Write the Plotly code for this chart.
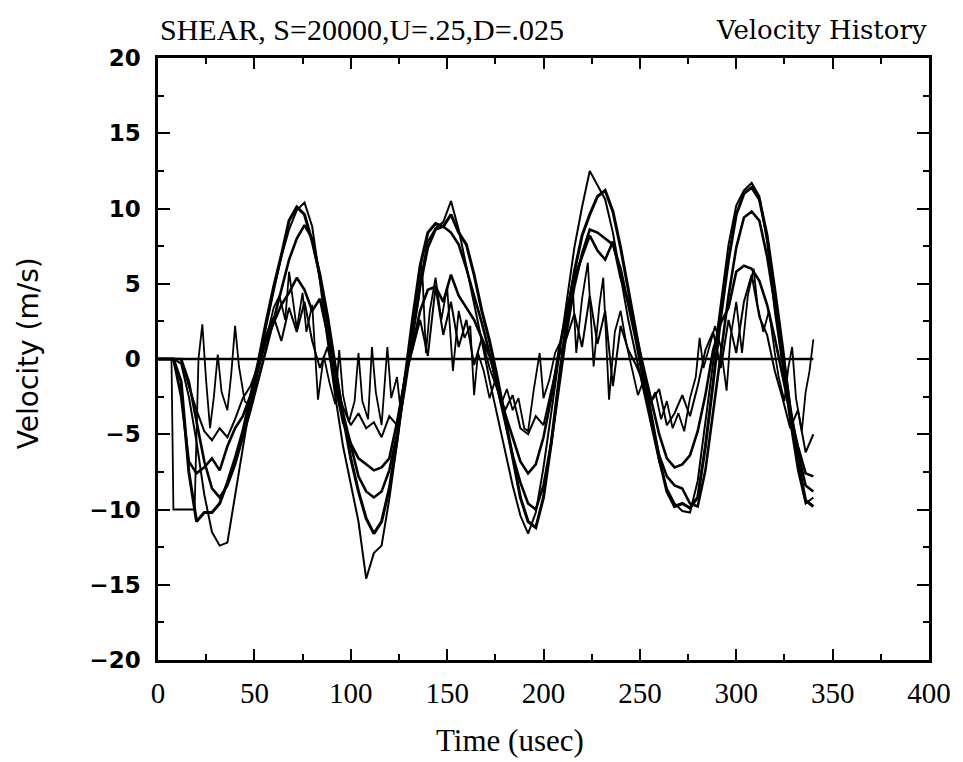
import plotly.graph_objects as go

# time grid (usec) shared by the five smooth gauge traces
T = [0, 4, 8, 12, 16, 20, 24, 28, 32, 36, 40, 44, 48, 52, 56, 60, 64, 68, 72, 76,
     80, 84, 88, 92, 96, 100, 104, 108, 112, 116, 120, 124, 128, 132, 136, 140, 144, 148, 152, 156,
     160, 164, 168, 172, 176, 180, 184, 188, 192, 196, 200, 204, 208, 212, 216, 220, 224, 228, 232, 236,
     240, 244, 248, 252, 256, 260, 264, 268, 272, 276, 280, 284, 288, 292, 296, 300, 304, 308, 312, 316,
     320, 324, 328, 332, 336, 340]

V_A = [0, 0, 0, -0.3, -2.5, -5.5, -9.0, -11.5, -12.4, -12.2, -9.0, -5.8, -2.8, -0.3, 2.2, 4.5, 6.8, 8.6, 9.9, 10.4,
       8.8, 5.2, 1.2, -2.5, -5.8, -8.2, -10.8, -14.6, -12.9, -12.4, -9.3, -5.6, -1.8, 1.6, 5.2, 7.8, 8.7, 9.1, 10.5, 8.6,
       6.2, 3.8, 1.2, -1.4, -3.8, -6.2, -8.4, -10.4, -11.6, -10.2, -7.2, -3.6, 0.2, 3.8, 7.4, 10.1, 12.5, 11.6, 10.6, 8.4,
       5.6, 2.6, 0.2, -2.2, -4.6, -6.8, -8.6, -9.6, -10.1, -10.2, -8.1, -4.2, -0.2, 3.8, 7.6, 10.2, 11.2, 11.7, 10.8, 7.8,
       3.2, -0.4, -4.2, -7.4, -9.6, -9.2]

V_B = [0, 0, 0, -1.5, -7.5, -10.8, -10.2, -10.2, -9.6, -8.2, -6.6, -4.8, -2.6, -0.2, 2.4, 4.8, 6.9, 9.2, 10.1, 9.6,
       7.8, 5.6, 2.8, -0.6, -3.8, -6.6, -8.8, -10.6, -11.6, -10.8, -8.6, -5.4, -1.2, 2.6, 6.2, 8.4, 9.0, 8.8, 9.6, 8.4,
       7.6, 5.6, 3.2, 1.2, -1.2, -3.8, -6.4, -9.2, -10.8, -11.2, -9.2, -5.6, -1.4, 2.6, 5.8, 8.2, 9.6, 10.8, 11.2, 9.8,
       7.4, 4.6, 1.8, -1.0, -3.8, -6.6, -8.8, -9.8, -9.6, -9.9, -9.2, -5.8, -1.6, 2.8, 6.6, 9.6, 11.0, 11.4, 10.6, 8.2,
       4.6, 0.8, -3.4, -6.8, -9.4, -9.8]

V_C = [0, 0, 0, 0, -1.5, -4.2, -6.8, -8.6, -9.2, -8.4, -7.0, -5.2, -3.4, -1.4, 0.6, 2.8, 4.8, 6.6, 8.0, 8.9,
       8.0, 5.4, 2.4, -0.8, -3.6, -5.8, -7.8, -8.8, -9.2, -8.8, -7.4, -5.0, -2.0, 1.4, 4.8, 7.4, 8.6, 8.8, 8.4, 7.6,
       6.0, 4.2, 2.4, 0.4, -1.8, -4.2, -6.4, -8.2, -9.6, -10.0, -8.4, -5.6, -2.0, 1.8, 4.8, 7.0, 8.6, 8.4, 8.0, 7.6,
       6.0, 3.6, 1.2, -1.6, -4.2, -6.4, -7.8, -8.4, -8.6, -9.6, -9.8, -7.4, -3.6, 0.4, 4.2, 7.4, 9.4, 9.8, 9.2, 6.8,
       3.6, 0.4, -3.2, -6.2, -8.4, -8.8]

V_D = [0, 0, 0, -2.5, -6.8, -7.6, -7.2, -6.6, -7.4, -5.8, -4.6, -3.8, -2.4, -0.6, 1.2, 2.4, 3.6, 4.4, 5.4, 4.6,
       3.2, 4.0, 1.6, -1.8, -4.2, -5.6, -6.6, -7.0, -7.4, -7.2, -6.6, -4.2, -1.4, 0.8, 3.2, 4.6, 4.8, 3.8, 5.6, 4.2,
       3.4, 2.6, 1.4, 0.2, -1.6, -3.6, -5.2, -6.8, -7.6, -7.0, -5.2, -2.6, 0.6, 3.2, 5.4, 6.8, 8.2, 7.2, 6.6, 7.8,
       5.4, 3.8, 1.6, -0.8, -3.0, -5.0, -6.6, -7.2, -7.0, -6.4, -4.8, -2.4, 0.6, 2.4, 3.4, 5.8, 6.2, 6.0, 5.2, 3.6,
       1.4, -1.2, -3.6, -5.8, -7.6, -7.8]

V_E = [0, 0, 0, 0, -1.8, -3.4, -4.8, -5.4, -4.6, -5.2, -4.0, -2.6, -1.8, -0.4, 1.6, 2.8, 1.2, 3.4, 1.8, 3.8,
       1.2, -0.6, 0.8, -1.6, -3.2, -4.4, -3.6, -4.6, -4.2, -5.2, -3.8, -4.4, -1.2, 0.6, 2.6, 0.2, 4.8, 1.6, 3.8, 0.8,
       2.6, -0.4, 1.4, -0.6, -2.0, -3.4, -2.4, -4.6, -5.0, -3.8, -4.4, -2.2, 0.2, 1.4, 3.0, 0.8, 4.2, 1.0, 3.2, -1.8,
       2.2, 0.6, -0.4, -1.6, -2.8, -2.0, -4.4, -3.6, -2.4, -3.8, -1.8, 0.6, 1.8, -0.6, 2.6, 0.4, 3.8, 5.6, 2.8, 1.6,
       -0.8, -2.6, -4.6, -3.4, -6.2, -5.0]

# spiky gauge, read on its own finer time points
T_F = [0, 7, 8, 19, 21, 23, 25, 27, 29, 31, 33, 36, 38, 40, 42, 45, 48, 51, 54, 57,
       60, 63, 66, 68, 70, 72, 75, 77, 80, 83, 86, 89, 92, 94, 96, 99, 102, 104, 106, 109,
       111, 113, 116, 119, 121, 124, 126, 129, 132, 135, 137, 139, 141, 144, 147, 150, 153, 156, 159, 162,
       164, 166, 169, 172, 175, 178, 181, 184, 187, 190, 192, 195, 198, 200, 203, 206, 209, 212, 215, 217,
       220, 223, 226, 229, 231, 234, 237, 240, 243, 246, 249, 252, 255, 258, 261, 264, 267, 270, 273, 276,
       279, 281, 283, 286, 289, 292, 295, 297, 300, 303, 306, 309, 311, 314, 317, 320, 322, 325, 327, 329,
       331, 334, 336, 338, 340]
V_F = [0, 0, -10, -10, 0, 2.3, -1.5, -4.6, -2.5, 0.3, -2.2, -3.4, -1.0, 2.2, -0.5, -2.8, -3.2, -1.4, 0.4, 1.8,
       3.4, 4.2, 2.6, 5.8, 3.8, 2.0, 4.4, 1.8, 3.6, -2.7, 0.2, -1.6, -3.0, 0.6, -2.4, -4.2, -2.8, 0.4, -2.8, -4.0,
       0.8, -2.2, -4.4, 0.8, -2.6, -1.2, -3.6, -0.4, 1.6, 3.8, 6.2, 0.4, 3.2, 5.4, 2.6, 4.8, -0.8, 3.2, 1.4, 2.2,
       -2.4, 0.4, -0.8, -2.6, -1.4, -3.0, -2.0, -3.4, -2.6, -4.6, -4.8, -2.0, 0.4, -2.6, -1.4, 0.4, 1.2, 3.0, 5.2, 0.4,
       4.0, 6.4, -0.5, 3.6, 5.4, -2.7, 1.8, 3.2, 1.0, -0.8, -2.4, -1.4, -3.0, -2.2, -4.0, -2.8, -4.6, -3.6, -4.8, -2.6,
       -1.2, 1.4, -0.6, 0.8, 2.2, 0.8, -2.1, 1.4, 3.8, 0.4, 4.2, 6.0, 3.6, 1.8, 3.2, 0.4, -1.2, -2.8, -0.6, 0.8,
       -2.6, -4.8, -2.2, -0.8, 1.3]

BASE_T = [0, 340]
BASE_V = [0, 0]

SERIES = [
    (T, V_A, 2.0),
    (T, V_B, 3.0),
    (T, V_C, 2.6),
    (T, V_D, 2.6),
    (T, V_E, 2.0),
    (T_F, V_F, 1.8),
    (BASE_T, BASE_V, 2.6),
]

fig = go.Figure()
for xs, ys, w in SERIES:
    fig.add_trace(go.Scatter(x=xs, y=ys, mode="lines",
                             line=dict(color="black", width=w), showlegend=False))

# page body has an 8px margin, so the figure is drawn 8px smaller and offset
fig.update_layout(
    width=955, height=754,
    margin=dict(l=150, r=28, t=50, b=102),
    paper_bgcolor="white", plot_bgcolor="white",
)

axis_common = dict(
    showline=True, linecolor="black", linewidth=2.5, mirror="ticks",
    ticks="inside", tickcolor="black", tickwidth=2, showgrid=False, zeroline=False,
)
fig.update_xaxes(
    range=[0, 400], dtick=50, ticklen=11,
    minor=dict(dtick=25, ticklen=6, ticks="inside", tickcolor="black", tickwidth=1.5),
    tickfont=dict(family="Liberation Serif", size=29, color="black"),
    ticklabelstandoff=5,
    **axis_common,
)
fig.update_yaxes(
    range=[-20, 20], dtick=5, ticklen=12,
    minor=dict(dtick=2.5, ticklen=6, ticks="inside", tickcolor="black", tickwidth=1.5),
    tickfont=dict(family="DejaVu Sans", size=23, color="black", weight="bold"),
    ticklabelstandoff=10,
    **axis_common,
)

fig.add_annotation(text="SHEAR, S=20000,U=.25,D=.025", xref="paper", yref="paper",
                   x=0, y=1.047, xanchor="left", yanchor="middle", showarrow=False,
                   font=dict(family="Liberation Serif", size=30, color="black"))
fig.add_annotation(text="Velocity History", xref="paper", yref="paper",
                   x=1, y=1.047, xanchor="right", yanchor="middle", showarrow=False,
                   font=dict(family="DejaVu Serif", size=26, color="black"))
fig.add_annotation(text="Time (usec)", xref="paper", yref="paper",
                   x=0.457, y=-0.133, xanchor="center", yanchor="middle", showarrow=False,
                   font=dict(family="Liberation Serif", size=31, color="black"))
fig.add_annotation(text="Velocity (m/s)", xref="paper", yref="paper", textangle=-90,
                   x=-0.167, y=0.51, xanchor="center", yanchor="middle", showarrow=False,
                   font=dict(family="DejaVu Sans", size=28, color="black"))

fig.write_html("out.html")
